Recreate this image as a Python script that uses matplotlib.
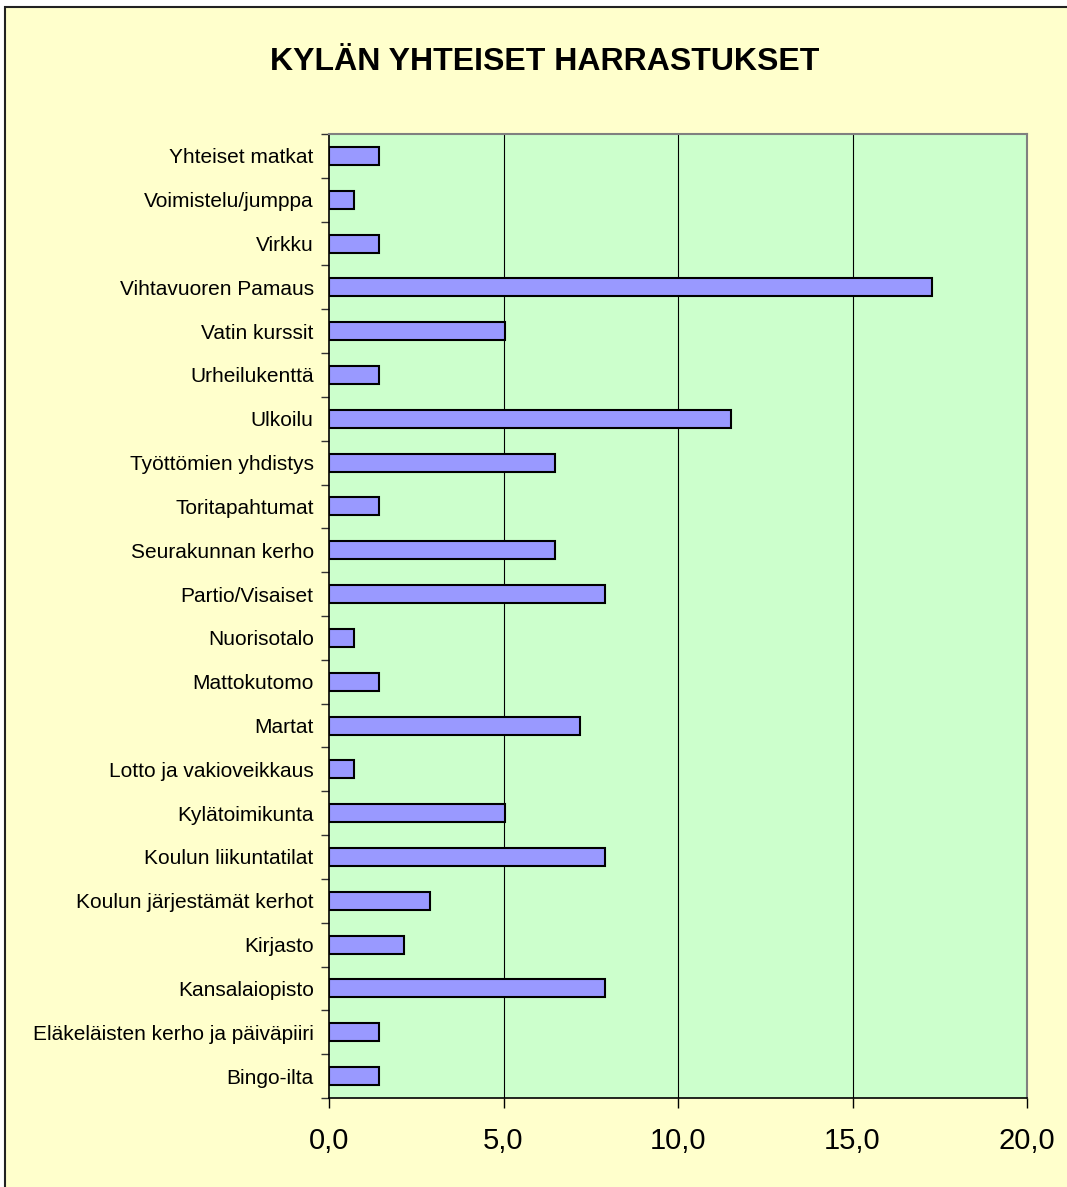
import matplotlib
matplotlib.use("Agg")
import matplotlib.pyplot as plt
from matplotlib.patches import Rectangle
from matplotlib.ticker import FixedLocator, NullFormatter

# Data (bottom to top order as drawn)
categories = [
    "Bingo-ilta",
    "Eläkeläisten kerho ja päiväpiiri",
    "Kansalaiopisto",
    "Kirjasto",
    "Koulun järjestämät kerhot",
    "Koulun liikuntatilat",
    "Kylätoimikunta",
    "Lotto ja vakioveikkaus",
    "Martat",
    "Mattokutomo",
    "Nuorisotalo",
    "Partio/Visaiset",
    "Seurakunnan kerho",
    "Toritapahtumat",
    "Työttömien yhdistys",
    "Ulkoilu",
    "Urheilukenttä",
    "Vatin kurssit",
    "Vihtavuoren Pamaus",
    "Virkku",
    "Voimistelu/jumppa",
    "Yhteiset matkat",
]
values = [1.44, 1.44, 7.91, 2.16, 2.88, 7.91, 5.04, 0.72, 7.19, 1.44, 0.72,
          7.91, 6.47, 1.44, 6.47, 11.51, 1.44, 5.04, 17.27, 1.44, 0.72, 1.44]
x_ticks = [0, 5, 10, 15, 20]
x_tick_labels = ["0,0", "5,0", "10,0", "15,0", "20,0"]
title = "KYLÄN YHTEISET HARRASTUKSET"

W, H = 1067, 1187
fig = plt.figure(figsize=(W / 100, H / 100), dpi=100)
fig.patch.set_facecolor("white")

# outer chart frame
frame = Rectangle((5 / W, -0.1), 1.2, 1.1 - 7 / H, transform=fig.transFigure,
                  facecolor="#FFFFCC", edgecolor="#222222", linewidth=1.5, zorder=-10)
fig.patches.append(frame)

left, right, top, bottom = 329 / W, 1027 / W, 1 - 134 / H, 1 - 1098 / H
ax = fig.add_axes([left, bottom, right - left, top - bottom])
ax.set_zorder(5)
ax.set_facecolor("#CCFFCC")

ypos = list(range(len(categories)))
ax.barh(ypos, values, height=0.41, color="#9999FF", edgecolor="black",
        linewidth=1.5, zorder=3)

ax.set_xlim(0, 20)
ax.set_ylim(-0.5, len(categories) - 0.5)

ax.set_xticks(x_ticks)
ax.set_xticklabels(x_tick_labels, fontsize=21, family="Liberation Sans")
ax.tick_params(axis="x", direction="out", length=7, width=1, pad=14, colors="black")

ax.set_yticks(ypos)
ax.set_yticklabels(categories, fontsize=15, family="Liberation Sans")
ax.tick_params(axis="y", which="major", length=0, pad=11)
ax.yaxis.set_minor_locator(FixedLocator([i - 0.5 for i in range(len(categories) + 1)]))
ax.yaxis.set_minor_formatter(NullFormatter())
ax.tick_params(axis="y", which="minor", direction="out", length=6, width=1, color="#333333")

for xv in [5, 10, 15]:
    ax.axvline(xv, color="black", linewidth=0.8, zorder=1)

ax.spines["left"].set_color("black")
ax.spines["left"].set_linewidth(1.2)
ax.spines["bottom"].set_color("black")
ax.spines["bottom"].set_linewidth(1.2)
ax.spines["top"].set_color("#808080")
ax.spines["top"].set_linewidth(1.5)
ax.spines["right"].set_color("#808080")
ax.spines["right"].set_linewidth(1.5)

fig.text(545 / W, 1 - 62 / H, title, ha="center", va="center",
         fontsize=23, fontweight="bold", family="Liberation Sans")

fig.savefig("out.png", dpi=100, facecolor=fig.get_facecolor())
